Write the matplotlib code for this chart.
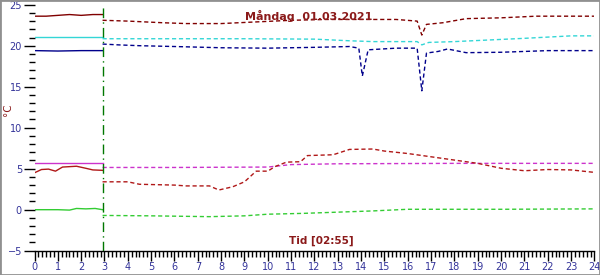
import numpy as np
import matplotlib
matplotlib.use("Agg")
import matplotlib.pyplot as plt
from matplotlib.patches import Rectangle

# measured (solid, up to 02:55) and forecast (dashed) temperatures
now_h = 2 + 55 / 60

room_hi_solid_t = [0.0, 0.5, 1.0, 1.5, 2.0, 2.5, now_h]
room_hi_solid_v = [23.6, 23.6, 23.7, 23.8, 23.7, 23.8, 23.8]
room_hi_t = [now_h, 4.0, 5.5, 6.5, 8.0, 9.5, 11.0, 12.5, 14.0, 15.5, 16.4, 16.6, 16.8, 17.5, 18.5, 20.0, 21.5, 23.0, 24.0]
room_hi_v = [23.1, 23.0, 22.8, 22.7, 22.7, 22.9, 23.1, 23.2, 23.2, 23.2, 23.0, 21.3, 22.6, 22.8, 23.3, 23.4, 23.6, 23.6, 23.6]

cyan_solid_t = [0.0, now_h]
cyan_solid_v = [21.1, 21.1]
cyan_t = [now_h, 5.0, 9.0, 12.0, 13.5, 14.5, 16.4, 16.6, 16.9, 18.0, 19.5, 21.0, 23.0, 24.0]
cyan_v = [20.85, 20.85, 20.85, 20.8, 20.6, 20.5, 20.5, 20.1, 20.4, 20.5, 20.7, 20.9, 21.2, 21.2]

navy_solid_t = [0.0, 1.0, 2.0, now_h]
navy_solid_v = [19.4, 19.35, 19.4, 19.4]
navy_t = [now_h, 3.6, 4.5, 6.0, 8.0, 10.0, 12.0, 13.5, 13.9, 14.05, 14.3, 15.5, 16.4, 16.6, 16.8, 17.3, 17.7, 18.5, 20.0, 22.0, 24.0]
navy_v = [20.2, 20.1, 20.0, 19.9, 19.75, 19.7, 19.8, 19.9, 19.7, 16.3, 19.5, 19.7, 19.7, 14.5, 19.1, 19.3, 19.6, 19.15, 19.2, 19.4, 19.4]

mag_solid_t = [0.0, now_h]
mag_solid_v = [5.65, 5.65]
mag_t = [now_h, 6.0, 10.0, 11.0, 13.0, 18.0, 24.0]
mag_v = [5.15, 5.15, 5.2, 5.5, 5.6, 5.65, 5.65]

red_solid_t = [0.0, 0.3, 0.6, 0.9, 1.2, 1.8, 2.2, 2.5, now_h]
red_solid_v = [4.5, 4.9, 4.95, 4.7, 5.2, 5.3, 5.05, 4.85, 4.8]
red_t = [now_h, 4.0, 4.5, 6.0, 6.5, 7.5, 7.9, 8.5, 9.0, 9.5, 10.0, 10.3, 10.8, 11.4, 11.7, 12.8, 13.5, 14.5, 15.0, 16.0, 17.0, 18.0, 19.0, 20.0, 21.0, 22.0, 23.0, 24.0]
red_v = [3.4, 3.4, 3.1, 3.0, 2.9, 2.9, 2.4, 2.8, 3.4, 4.7, 4.7, 5.25, 5.8, 5.85, 6.6, 6.7, 7.35, 7.4, 7.15, 6.85, 6.45, 6.05, 5.65, 5.05, 4.75, 4.9, 4.85, 4.55]

green_solid_t = [0.0, 1.0, 1.5, 1.8, 2.2, 2.6, now_h]
green_solid_v = [0.0, 0.0, -0.05, 0.15, 0.1, 0.15, 0.0]
green_t = [now_h, 5.0, 7.5, 9.0, 10.0, 11.5, 13.0, 14.5, 16.0, 20.0, 24.0]
green_v = [-0.7, -0.75, -0.85, -0.75, -0.55, -0.45, -0.3, -0.15, 0.05, 0.05, 0.1]

c_maroon = "#800000"
c_red = "#b01818"
c_cyan = "#33d6d6"
c_navy = "#00008b"
c_mag = "#cc33cc"
c_green = "#33cc33"
c_tick = "#333399"
c_text = "#8b1a1a"

fig = plt.figure(figsize=(6.0, 2.75), dpi=100)
ax = fig.add_axes([0.0575, 0.0884, 0.9333, 0.8945])

dash = (0, (3, 2))
pairs = [
    (room_hi_solid_t, room_hi_solid_v, room_hi_t, room_hi_v, c_maroon),
    (cyan_solid_t, cyan_solid_v, cyan_t, cyan_v, c_cyan),
    (navy_solid_t, navy_solid_v, navy_t, navy_v, c_navy),
    (mag_solid_t, mag_solid_v, mag_t, mag_v, c_mag),
    (red_solid_t, red_solid_v, red_t, red_v, c_red),
    (green_solid_t, green_solid_v, green_t, green_v, c_green),
]
for st, sv, dt, dv, col in pairs:
    ax.plot(st, sv, color=col, linewidth=1.0)
    ax.plot(dt, dv, color=col, linewidth=1.0, linestyle=dash)

ax.axvline(now_h, color="#007700", linewidth=1.0, linestyle=(0, (7, 3, 1, 3)))

ax.set_xlim(0, 24)
ax.set_ylim(-5, 25)
ax.set_xticks(np.arange(0, 25, 1))
ax.set_xticks(np.arange(0, 24.01, 1 / 6), minor=True)
ax.set_yticks(np.arange(-5, 26, 5))
ax.set_yticks(np.arange(-5, 26, 1), minor=True)

for side in ("top", "right", "left"):
    ax.spines[side].set_visible(False)
ax.spines["bottom"].set_color("black")
ax.spines["bottom"].set_linewidth(1.0)

ax.tick_params(axis="both", which="major", labelsize=7, labelcolor=c_tick, color="black", length=7, width=1, pad=1)
ax.tick_params(axis="both", which="minor", color="black", length=4, width=1)
ax.tick_params(axis="y", which="major", length=8)

ax.set_ylabel("°C", color=c_text, fontsize=7.5, labelpad=2)
ax.yaxis.set_label_coords(-0.038, 0.575)

ax.text(0.49, 0.955, "Måndag  01.03.2021", transform=ax.transAxes, ha="center", va="center",
        color=c_text, fontsize=8, fontweight="bold")
ax.text(0.513, 0.04, "Tid [02:55]", transform=ax.transAxes, ha="center", va="center",
        color=c_text, fontsize=7.5, fontweight="bold")

fig.patches.append(Rectangle((0, 0), 1, 1, transform=fig.transFigure, fill=False,
                             edgecolor="#909090", linewidth=2))

fig.savefig("out.png", dpi=100)
